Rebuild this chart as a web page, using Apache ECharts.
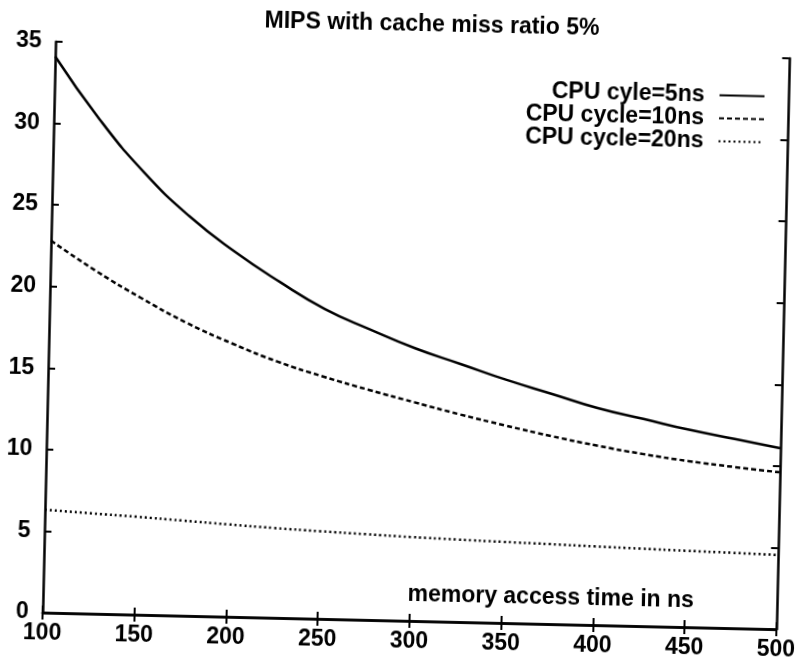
<!DOCTYPE html>
<html>
<head>
<meta charset="utf-8">
<script src="https://cdn.jsdelivr.net/npm/echarts@6/dist/echarts.min.js"></script>
<style>
  html, body { margin: 0; padding: 0; background: #fff; }
  /* the scanned original is tilted a little clockwise */
  #chart { width: 805px; height: 671px; transform: rotate(1.3deg); transform-origin: 419px 335px; }
</style>
</head>
<body>
<div id="chart"></div>
<script>
var memTimes = [100, 125, 150, 175, 200, 225, 250, 275, 300, 325, 350, 375, 400, 425, 450, 475, 500];
var cycle5 = [34.1, 30.3, 27.1, 24.5, 22.4, 20.6, 19.0, 17.8, 16.7, 15.8, 14.9, 14.1, 13.3, 12.7, 12.1, 11.6, 11.1];
var cycle10 = [22.8, 21.0, 19.4, 17.95, 16.75, 15.7, 14.85, 14.1, 13.4, 12.72, 12.1, 11.52, 11.0, 10.55, 10.18, 9.88, 9.62];
var cycle20 = [6.3, 6.15, 6.0, 5.83, 5.66, 5.5, 5.37, 5.25, 5.14, 5.05, 4.97, 4.9, 4.82, 4.75, 4.68, 4.62, 4.55];
var seriesNames = ['CPU cyle=5ns', 'CPU cycle=10ns', 'CPU cycle=20ns'];

function pairs(ys) {
  var out = [];
  for (var i = 0; i < memTimes.length; i++) {
    out.push([memTimes[i], ys[i]]);
  }
  return out;
}

var font = 'Liberation Sans';
var axisLine = { show: true, lineStyle: { color: '#000', width: 2.5 } };
var tick = { show: true, inside: true, length: 7, lineStyle: { color: '#000', width: 2 } };

var chart = echarts.init(document.getElementById('chart'));

var option = {
  animation: false,
  backgroundColor: 'transparent',
  title: {
    text: 'MIPS with cache miss ratio 5%',
    left: 420,
    top: 8,
    textAlign: 'center',
    textStyle: { fontFamily: font, fontSize: 23, fontWeight: 'bold', color: '#000' }
  },
  legend: {
    orient: 'vertical',
    right: 40,
    top: 72,
    align: 'right',
    itemWidth: 45,
    itemHeight: 12,
    itemGap: 0,
    data: seriesNames,
    itemStyle: { opacity: 0 },
    textStyle: { fontFamily: font, fontSize: 23, fontWeight: 'bold', color: '#000', lineHeight: 23, padding: [0, 10, 0, 0] }
  },
  grid: { left: 49, top: 50, right: 16, bottom: 50 },
  xAxis: [
    {
      type: 'value',
      min: 100, max: 500, interval: 50,
      position: 'bottom',
      axisLine: axisLine,
      axisTick: tick,
      splitLine: { show: false },
      axisLabel: { margin: 9, fontFamily: font, fontSize: 23, fontWeight: 'bold', color: '#000' },
      name: 'memory access time in ns',
      nameLocation: 'end',
      nameGap: -83,
      nameTextStyle: { fontFamily: font, fontSize: 23, fontWeight: 'bold', color: '#000', align: 'right', verticalAlign: 'bottom', padding: [0, 0, 15, 0] }
    },
    {
      type: 'value',
      min: 100, max: 500, interval: 50,
      position: 'top',
      axisLine: axisLine,
      axisTick: tick,
      axisLabel: { show: false },
      splitLine: { show: false }
    }
  ],
  yAxis: [
    {
      type: 'value',
      min: 0, max: 35, interval: 5,
      position: 'left',
      axisLine: axisLine,
      axisTick: tick,
      splitLine: { show: false },
      axisLabel: { margin: 14, fontFamily: font, fontSize: 23, fontWeight: 'bold', color: '#000' }
    },
    {
      type: 'value',
      min: 0, max: 35, interval: 5,
      position: 'right',
      axisLine: axisLine,
      axisTick: tick,
      axisLabel: { show: false },
      splitLine: { show: false }
    }
  ],
  series: [
    {
      name: seriesNames[0],
      type: 'line',
      smooth: true,
      symbol: 'none',
      data: pairs(cycle5),
      lineStyle: { color: '#000', width: 2.5, type: 'solid' },
      itemStyle: { color: '#000' }
    },
    {
      name: seriesNames[1],
      type: 'line',
      smooth: true,
      symbol: 'none',
      data: pairs(cycle10),
      lineStyle: { color: '#000', width: 2.5, type: [5, 3] },
      itemStyle: { color: '#000' }
    },
    {
      name: seriesNames[2],
      type: 'line',
      smooth: true,
      symbol: 'none',
      data: pairs(cycle20),
      lineStyle: { color: '#000', width: 2.5, type: [2, 3] },
      itemStyle: { color: '#000' }
    }
  ]
};

chart.setOption(option);
</script>
</body>
</html>
